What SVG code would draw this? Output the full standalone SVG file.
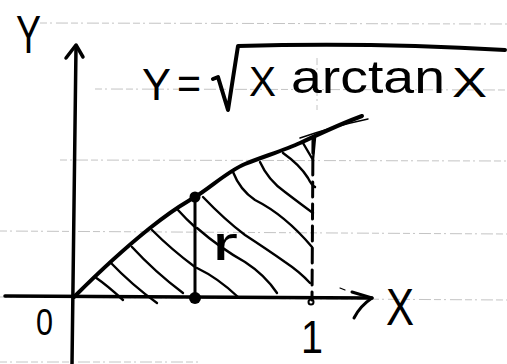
<svg xmlns="http://www.w3.org/2000/svg" width="507" height="364" viewBox="0 0 507 364">
  <style>
    .rule { stroke: #c4c4c4; stroke-width: 1; stroke-dasharray: 7 3 2 4 12 3; fill: none; }
    .ink { stroke: #000; fill: none; stroke-linecap: round; stroke-linejoin: round; }
    .axis { stroke-width: 3.5; }
    .curve { stroke-width: 4; }
    .hatch { stroke-width: 2.4; }
    .hand { font-family: "Liberation Sans", Arial, sans-serif; fill: #000; }
  </style>
  <rect width="507" height="364" fill="#fff"/>

  <g id="paper-lines">
    <line class="rule" x1="40" y1="23" x2="507" y2="24"/>
    <line class="rule" x1="95" y1="89" x2="507" y2="90"/>
    <line class="rule" x1="60" y1="160" x2="507" y2="161"/>
    <line class="rule" x1="0" y1="231" x2="507" y2="234"/>
    <line class="rule" x1="0" y1="297" x2="507" y2="300"/>
    <line class="rule" x1="0" y1="362" x2="200" y2="362"/>
    <line class="rule" x1="317" y1="58" x2="317" y2="110"/>
  </g>

  <g id="axes">
    <path class="ink axis" d="M76,47 L72,364"/>
    <path class="ink axis" d="M66,58 L76,45 L83,57"/>
    <path class="ink axis" d="M5,296 L372,298"/>
    <path class="ink" stroke-width="3" d="M352,292 L372,298 Q360,306 354,318"/>
    <path class="ink" stroke-width="1.2" d="M340,288 L345,290"/>
  </g>

  <g id="curve">
    <path class="ink curve" d="M74,297 C95,276 125,248 150,228 S180,206 195,197 S228,171 245,164 S285,150 300,143 S340,124 362,116"/>
    <path class="ink" stroke-width="1.5" d="M300,138 Q335,126 368,119"/>
  </g>

  <g id="hatching">
    <path class="ink hatch" d="M95,277 Q108,286 123,300"/>
    <path class="ink hatch" d="M110,262 Q132,285 157,303"/>
    <path class="ink hatch" d="M132,247 Q155,272 183,293"/>
    <path class="ink hatch" d="M152,230 Q172,250 195,267"/>
    <path class="ink hatch" d="M178,210 Q186,219 195,227"/>
    <path class="ink hatch" d="M197,268 Q218,278 238,297"/>
    <path class="ink hatch" d="M197,228 Q220,248 245,262 Q265,275 277,293"/>
    <path class="ink hatch" d="M203,197 Q225,220 245,235 Q268,250 285,262 Q300,272 310,283"/>
    <path class="ink hatch" d="M233,172 Q240,190 255,200 Q285,215 312,247"/>
    <path class="ink hatch" d="M260,162 Q268,180 285,192 Q302,205 313,213"/>
    <path class="ink hatch" d="M283,153 Q300,165 308,178 Q312,186 315,187"/>
    <path class="ink hatch" d="M303,143 L313,160 L315,138"/>
  </g>

  <g id="dashed-x1">
    <path class="ink" stroke-width="3" stroke-dasharray="15 7" stroke-linecap="butt" d="M313,138 L312,300"/>
    <circle cx="311" cy="302" r="2.5" fill="none" stroke="#000" stroke-width="2"/>
  </g>

  <g id="radius-r">
    <path class="ink" stroke-width="3" d="M195,197 L195,298"/>
    <circle cx="195" cy="197" r="5.5" fill="#000"/>
    <circle cx="195" cy="298" r="6" fill="#000"/>
    <text class="hand" x="212" y="260" font-size="48" textLength="26" lengthAdjust="spacingAndGlyphs">r</text>
  </g>

  <g id="labels">
    <text class="hand" x="16" y="53" font-size="54" textLength="25" lengthAdjust="spacingAndGlyphs">Y</text>
    <text class="hand" x="36" y="335" font-size="37" textLength="17" lengthAdjust="spacingAndGlyphs">0</text>
    <text class="hand" x="386" y="325" font-size="51" textLength="28" lengthAdjust="spacingAndGlyphs">X</text>
    <text class="hand" x="301" y="353" font-size="46" textLength="22" lengthAdjust="spacingAndGlyphs">1</text>
  </g>

  <g id="formula">
    <text class="hand" x="142" y="100" font-size="44" textLength="29" lengthAdjust="spacingAndGlyphs">Y</text>
    <text class="hand" x="177" y="99" font-size="44" textLength="24" lengthAdjust="spacingAndGlyphs">=</text>
    <path class="ink" stroke-width="4" d="M213,79 L218,77 L228,110 L238,46 Q370,42 505,50"/>
    <text class="hand" x="249" y="96" font-size="42" textLength="27" lengthAdjust="spacingAndGlyphs">X</text>
    <text class="hand" x="291" y="93" font-size="46" textLength="154" lengthAdjust="spacingAndGlyphs">arctan</text>
    <text class="hand" x="452" y="97" font-size="43" textLength="35" lengthAdjust="spacingAndGlyphs">X</text>
  </g>
</svg>
